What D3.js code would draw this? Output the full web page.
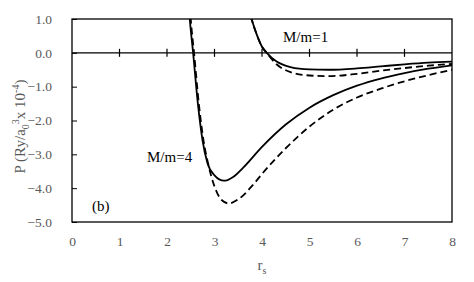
<!DOCTYPE html>
<html>
<head>
<meta charset="utf-8">
<script src="https://cdn.jsdelivr.net/npm/d3@7"></script>
<style>
  body { margin: 0; background: #fff; }
  svg text { font-family: "Liberation Serif", "Times New Roman", Times, "DejaVu Serif", serif !important; }
</style>
</head>
<body>
<div class="canvas"></div>
<script>
// r_s values and P values
const rsM1 = [3.7, 3.78, 3.9, 4.0, 4.1, 4.3, 4.6, 5.0, 5.4, 6.0, 6.5, 7.0, 7.5, 8.0];
const solidM1 = [1.4, 1.0, 0.5, 0.18, 0.0, -0.25, -0.42, -0.49, -0.5, -0.46, -0.4, -0.34, -0.29, -0.26];
const dashM1 = [1.4, 1.0, 0.5, 0.18, 0.0, -0.33, -0.57, -0.67, -0.69, -0.62, -0.53, -0.45, -0.38, -0.33];

const rsM4 = [2.46, 2.48, 2.55, 2.65, 2.75, 2.85, 3.0, 3.2, 3.4, 3.6, 4.0, 4.5, 5.0, 5.5, 6.0, 6.5, 7.0, 7.5, 8.0];
const solidM4 = [1.4, 1.0, 0.0, -1.5, -2.6, -3.25, -3.62, -3.78, -3.66, -3.4, -2.78, -2.12, -1.62, -1.25, -0.97, -0.76, -0.6, -0.47, -0.37];
const rsM4d = [2.48, 2.5, 2.57, 2.67, 2.77, 2.87, 3.0, 3.15, 3.3, 3.5, 3.8, 4.0, 4.5, 5.0, 5.5, 6.0, 6.5, 7.0, 7.5, 8.0];
const dashM4 = [1.4, 1.0, 0.0, -1.5, -2.6, -3.3, -3.95, -4.35, -4.45, -4.33, -3.92, -3.58, -2.82, -2.18, -1.68, -1.32, -1.06, -0.84, -0.66, -0.5];

const xTicks = [0, 1, 2, 3, 4, 5, 6, 7, 8];
const yTicks = [1, 0, -1, -2, -3, -4, -5];

const dims = { width: 474, height: 282 };
const plot = { left: 72, right: 452, top: 19, bottom: 222 };
const serif = '"Liberation Serif", "Times New Roman", serif';

const svg = d3.select('.canvas')
    .append('svg')
    .attr('width', dims.width)
    .attr('height', dims.height)
    .style('font-family', serif)
;

const x = d3.scaleLinear().domain([0, 8]).range([plot.left, plot.right]);
const y = d3.scaleLinear().domain([-5, 1]).range([plot.bottom, plot.top]);

svg.append('clipPath').attr('id', 'clip')
    .append('rect')
    .attr('x', plot.left).attr('y', plot.top)
    .attr('width', plot.right - plot.left).attr('height', plot.bottom - plot.top);

// frame
svg.append('rect')
    .attr('x', plot.left).attr('y', plot.top)
    .attr('width', plot.right - plot.left).attr('height', plot.bottom - plot.top)
    .attr('fill', 'none').attr('stroke', '#000').attr('stroke-width', 1.3);

// y axis, inward ticks
const yAxis = d3.axisLeft(y).tickValues(yTicks).tickSize(-5).tickPadding(20)
    .tickFormat(d3.format('.1f'));
const gy = svg.append('g').attr('transform', `translate(${plot.left},0)`).call(yAxis)
    .attr('font-family', null);
gy.select('.domain').remove();
gy.selectAll('line').attr('stroke', '#000');
gy.selectAll('text').attr('font-size', 13.5).attr('fill', '#595959')
    .style('font-family', serif);

// x axis: ticks drawn across the zero line, labels under the frame
const xAxis = d3.axisBottom(x).tickValues(xTicks).tickSize(0).tickPadding(14);
const gx = svg.append('g').attr('transform', `translate(0,${plot.bottom})`).call(xAxis)
    .attr('font-family', null);
gx.select('.domain').remove();
gx.selectAll('text').attr('font-size', 13.5).attr('fill', '#595959')
    .style('font-family', serif);

svg.append('line')
    .attr('x1', plot.left).attr('x2', plot.right)
    .attr('y1', y(0)).attr('y2', y(0))
    .attr('stroke', '#000').attr('stroke-width', 1.2);

svg.selectAll('.xtick')
    .data(xTicks.filter(d => d > 0 && d < 8))
    .enter()
    .append('line')
    .attr('x1', d => x(d)).attr('x2', d => x(d))
    .attr('y1', y(0) - 4).attr('y2', y(0) + 4)
    .attr('stroke', '#000').attr('stroke-width', 1.2);

// curves
const line = d3.line()
    .x(d => x(d[0]))
    .y(d => y(d[1]))
    .curve(d3.curveMonotoneX);

const series = [
    { r: rsM1, p: solidM1, dash: null },
    { r: rsM1, p: dashM1, dash: '7,4' },
    { r: rsM4, p: solidM4, dash: null },
    { r: rsM4d, p: dashM4, dash: '7,4' },
];

svg.append('g').attr('clip-path', 'url(#clip)')
    .selectAll('path')
    .data(series)
    .enter()
    .append('path')
    .attr('d', s => line(s.r.map((v, i) => [v, s.p[i]])))
    .attr('fill', 'none')
    .attr('stroke', '#000')
    .attr('stroke-width', 1.8)
    .attr('stroke-dasharray', s => s.dash)
;

// labels
svg.append('text').attr('x', 283).attr('y', 42).attr('font-size', 15).text('M/m=1');
svg.append('text').attr('x', 147).attr('y', 162).attr('font-size', 15).text('M/m=4');
svg.append('text').attr('x', 92).attr('y', 211).attr('font-size', 15).text('(b)');

const xt = svg.append('text').attr('x', 262).attr('y', 270)
    .attr('text-anchor', 'middle').attr('font-size', 15).attr('fill', '#595959');
xt.append('tspan').text('r');
xt.append('tspan').attr('dy', 4).attr('font-size', 10).text('s');

const yt = svg.append('text')
    .attr('transform', `translate(25,${(plot.top + plot.bottom) / 2 + 6}) rotate(-90)`)
    .attr('text-anchor', 'middle').attr('font-size', 15).attr('fill', '#595959');
yt.append('tspan').text('P (Ry/a');
yt.append('tspan').attr('dy', 4).attr('font-size', 10).text('0');
yt.append('tspan').attr('dy', -10).attr('font-size', 10).text('3');
yt.append('tspan').attr('dy', 6).text('x  10');
yt.append('tspan').attr('dy', -6).attr('font-size', 10).text('-4');
yt.append('tspan').attr('dy', 6).text(')');
</script>
</body>
</html>
